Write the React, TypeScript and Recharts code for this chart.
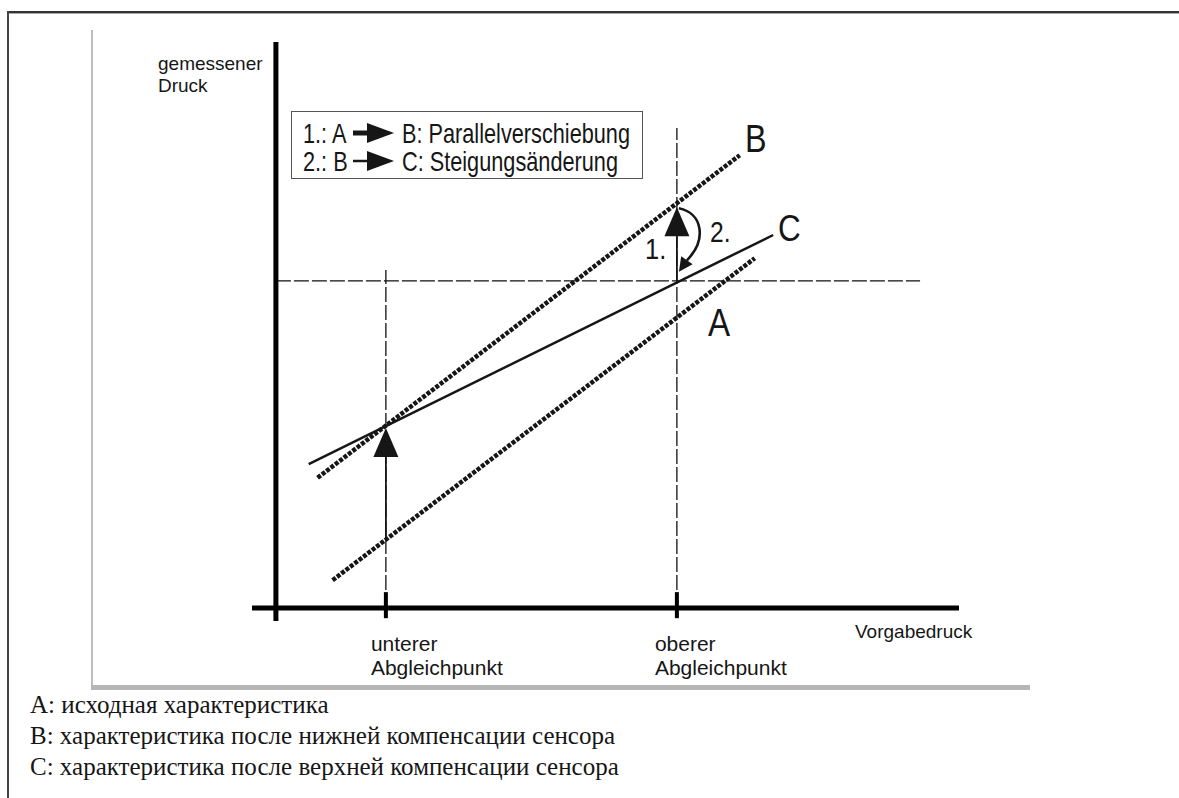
import React from "react";
import { LineChart, Line, XAxis, YAxis, ReferenceLine } from "recharts";

// x = Vorgabedruck, y = gemessener Druck (arbitrary units)
const lowerPoint = 16.1;
const upperPoint = 58.7;
const xTickLabels = [
  ["unterer", "Abgleichpunkt"],
  ["oberer", "Abgleichpunkt"],
];

const lineA = [
  { x: 8.3, y: 4.9 },
  { x: 70.1, y: 61.8 },
];
const lineB = [
  { x: 6.1, y: 23.0 },
  { x: 67.9, y: 80.0 },
];
const lineC = [
  { x: 4.8, y: 25.4 },
  { x: 72.8, y: 65.9 },
];

// where the lines cross the two calibration verticals
const aAtLower = 12.4;
const bAtLower = 31.8;
const bAtUpper = 70.8;
const cAtUpper = 57.8;
const arrow2Tip = { x: 59.0, y: 59.4 };

const guideEnds = { lowerTop: 59.7, upperTop: 84.8, levelRight: 94.3 };
const tickSpan = [-1.8, 2.8];
const xDomain = [-3.5, 100];
const yDomain = [-2.3, 100];

const yAxisTitle = ["gemessener", "Druck"];
const xAxisTitle = "Vorgabedruck";
const legendRows = [
  ["1.: A", "B: Parallelverschiebung"],
  ["2.: B", "C: Steigungsänderung"],
];
const captions = [
  "А: исходная характеристика",
  "В: характеристика после нижней компенсации сенсора",
  "С: характеристика после верхней компенсации сенсора",
];

const sans = '"Liberation Sans", Arial, sans-serif';
const serif = '"Liberation Serif", "Times New Roman", serif';
const ink = "#161616";

const headPoints = (tx: number, ty: number, dx: number, dy: number, len: number, half: number) => {
  const bx = tx - dx * len;
  const by = ty - dy * len;
  return `${tx},${ty} ${bx - dy * half},${by + dx * half} ${bx + dy * half},${by - dx * half}`;
};

const StraightArrow = (props: any) => {
  const { x1, y1, x2, y2 } = props;
  const len = Math.hypot(x2 - x1, y2 - y1) || 1;
  const dx = (x2 - x1) / len;
  const dy = (y2 - y1) / len;
  const head = 29;
  return (
    <g>
      <line x1={x1} y1={y1} x2={x2 - dx * head} y2={y2 - dy * head} stroke={ink} strokeWidth={1.8} />
      <polygon points={headPoints(x2, y2, dx, dy, head, 12.5)} fill={ink} />
    </g>
  );
};

const CurvedArrow = (props: any) => {
  const { x1, y1, x2, y2 } = props;
  const dx = -0.57;
  const dy = 0.82;
  const head = 14;
  const ex = x2 - dx * head;
  const ey = y2 - dy * head;
  const d = `M${x1 + 2},${y1 + 1} C${x1 + 26},${y1 + 6} ${x2 + 28},${y2 - 32} ${ex},${ey}`;
  return (
    <g>
      <path d={d} fill="none" stroke={ink} strokeWidth={2.6} />
      <polygon points={headPoints(x2, y2, dx, dy, head, 7)} fill={ink} />
    </g>
  );
};

const CalibTick = (props: any) => {
  const { x, y, index } = props;
  const lines = xTickLabels[index] || [];
  const left = x - (index === 0 ? 15 : 22);
  return (
    <g>
      <text x={left} y={y + 22} fontFamily={sans} fontSize={21} fill={ink}>{lines[0]}</text>
      <text x={left} y={y + 46} fontFamily={sans} fontSize={21} fill={ink}>{lines[1]}</text>
    </g>
  );
};

const Txt = ({ x, y, size, sx = 1, family = sans, children }: any) => (
  <div
    style={{
      position: "absolute",
      left: x,
      top: y,
      fontSize: size,
      lineHeight: 1,
      fontFamily: family,
      color: ink,
      whiteSpace: "nowrap",
      transform: `scaleX(${sx})`,
      transformOrigin: "left top",
    }}
  >
    {children}
  </div>
);

const LegendArrow = ({ y, shaft }: { y: number; shaft: number }) => (
  <svg style={{ position: "absolute", left: 353, top: y - 11 }} width={42} height={22}>
    <line x1={0} y1={11} x2={16} y2={11} stroke={ink} strokeWidth={shaft} />
    <polygon points="14,1 41,11 14,21" fill={ink} />
  </svg>
);

const guide = { stroke: "#111", strokeWidth: 1.3, strokeDasharray: "15 3" };

export default function App() {
  return (
    <div style={{ position: "absolute", left: 0, top: 0, width: 1179, height: 798, background: "#fff", overflow: "hidden" }}>
      {/* outer frame */}
      <div style={{ position: "absolute", left: 7, top: 11, width: 1172, height: 2, background: "#333" }} />
      <div style={{ position: "absolute", left: 7, top: 13, width: 1172, height: 1, background: "#aaa" }} />
      <div style={{ position: "absolute", left: 7, top: 11, width: 2, height: 787, background: "#444" }} />
      {/* grey picture panel */}
      <div style={{ position: "absolute", left: 91, top: 30, width: 1.5, height: 658, background: "#bdbdbd" }} />
      <div style={{ position: "absolute", left: 91, top: 685, width: 939, height: 5, background: "#b6b6b6" }} />

      <div style={{ position: "absolute", left: 0, top: 0 }}>
        <LineChart width={1179} height={798} margin={{ top: 42, right: 220, bottom: 117, left: 252 }}>
          <XAxis
            type="number"
            dataKey="x"
            domain={xDomain}
            allowDataOverflow
            ticks={[lowerPoint, upperPoint]}
            tick={<CalibTick />}
            axisLine={false}
            tickLine={false}
            height={60}
          />
          <YAxis type="number" dataKey="y" domain={yDomain} allowDataOverflow hide />

          <ReferenceLine segment={[{ x: 0, y: cAtUpper }, { x: guideEnds.levelRight, y: cAtUpper }]} {...guide} />
          <ReferenceLine segment={[{ x: lowerPoint, y: 0 }, { x: lowerPoint, y: guideEnds.lowerTop }]} {...guide} />
          <ReferenceLine segment={[{ x: upperPoint, y: 0 }, { x: upperPoint, y: guideEnds.upperTop }]} {...guide} />

          <Line data={lineA} dataKey="y" type="linear" stroke={ink} strokeWidth={4.5} strokeDasharray="4 1.5" dot={false} activeDot={false} isAnimationActive={false} />
          <Line data={lineB} dataKey="y" type="linear" stroke={ink} strokeWidth={4.5} strokeDasharray="4 1.5" dot={false} activeDot={false} isAnimationActive={false} />
          <Line data={lineC} dataKey="y" type="linear" stroke={ink} strokeWidth={2.5} dot={false} activeDot={false} isAnimationActive={false} />

          <ReferenceLine segment={[{ x: lowerPoint, y: aAtLower }, { x: lowerPoint, y: bAtLower }]} shape={StraightArrow} />
          <ReferenceLine segment={[{ x: upperPoint, y: cAtUpper }, { x: upperPoint, y: bAtUpper }]} shape={StraightArrow} />
          <ReferenceLine segment={[{ x: upperPoint, y: bAtUpper }, arrow2Tip]} shape={CurvedArrow} />

          {/* axes drawn as heavy lines crossing at the origin */}
          <ReferenceLine x={0} stroke="#000" strokeWidth={5} />
          <ReferenceLine y={0} stroke="#000" strokeWidth={5} />
          <ReferenceLine segment={[{ x: lowerPoint, y: tickSpan[0] }, { x: lowerPoint, y: tickSpan[1] }]} stroke="#000" strokeWidth={4} />
          <ReferenceLine segment={[{ x: upperPoint, y: tickSpan[0] }, { x: upperPoint, y: tickSpan[1] }]} stroke="#000" strokeWidth={4} />
        </LineChart>
      </div>

      <Txt x={158} y={54} size={19}>{yAxisTitle[0]}</Txt>
      <Txt x={158} y={76} size={19}>{yAxisTitle[1]}</Txt>
      <Txt x={855} y={622} size={19}>{xAxisTitle}</Txt>

      {/* legend */}
      <div style={{ position: "absolute", left: 291, top: 111, width: 352, height: 68, border: "1.5px solid #555", boxSizing: "border-box" }} />
      <Txt x={303} y={120} size={28} sx={0.775}>{legendRows[0][0]}</Txt>
      <LegendArrow y={133} shaft={5} />
      <Txt x={402} y={120} size={28} sx={0.775}>{legendRows[0][1]}</Txt>
      <Txt x={303} y={148} size={28} sx={0.775}>{legendRows[1][0]}</Txt>
      <LegendArrow y={161} shaft={2.5} />
      <Txt x={402} y={148} size={28} sx={0.775}>{legendRows[1][1]}</Txt>

      {/* line names and step numbers */}
      <Txt x={745} y={120} size={38} sx={0.85}>B</Txt>
      <Txt x={778} y={210} size={37} sx={0.85}>C</Txt>
      <Txt x={708} y={303} size={39} sx={0.85}>A</Txt>
      <Txt x={645} y={234} size={30} sx={0.85}>1.</Txt>
      <Txt x={710} y={218} size={29} sx={0.85}>2.</Txt>

      {captions.map((c, i) => (
        <Txt key={i} x={30} y={692 + i * 31} size={25} family={serif}>{c}</Txt>
      ))}
    </div>
  );
}
